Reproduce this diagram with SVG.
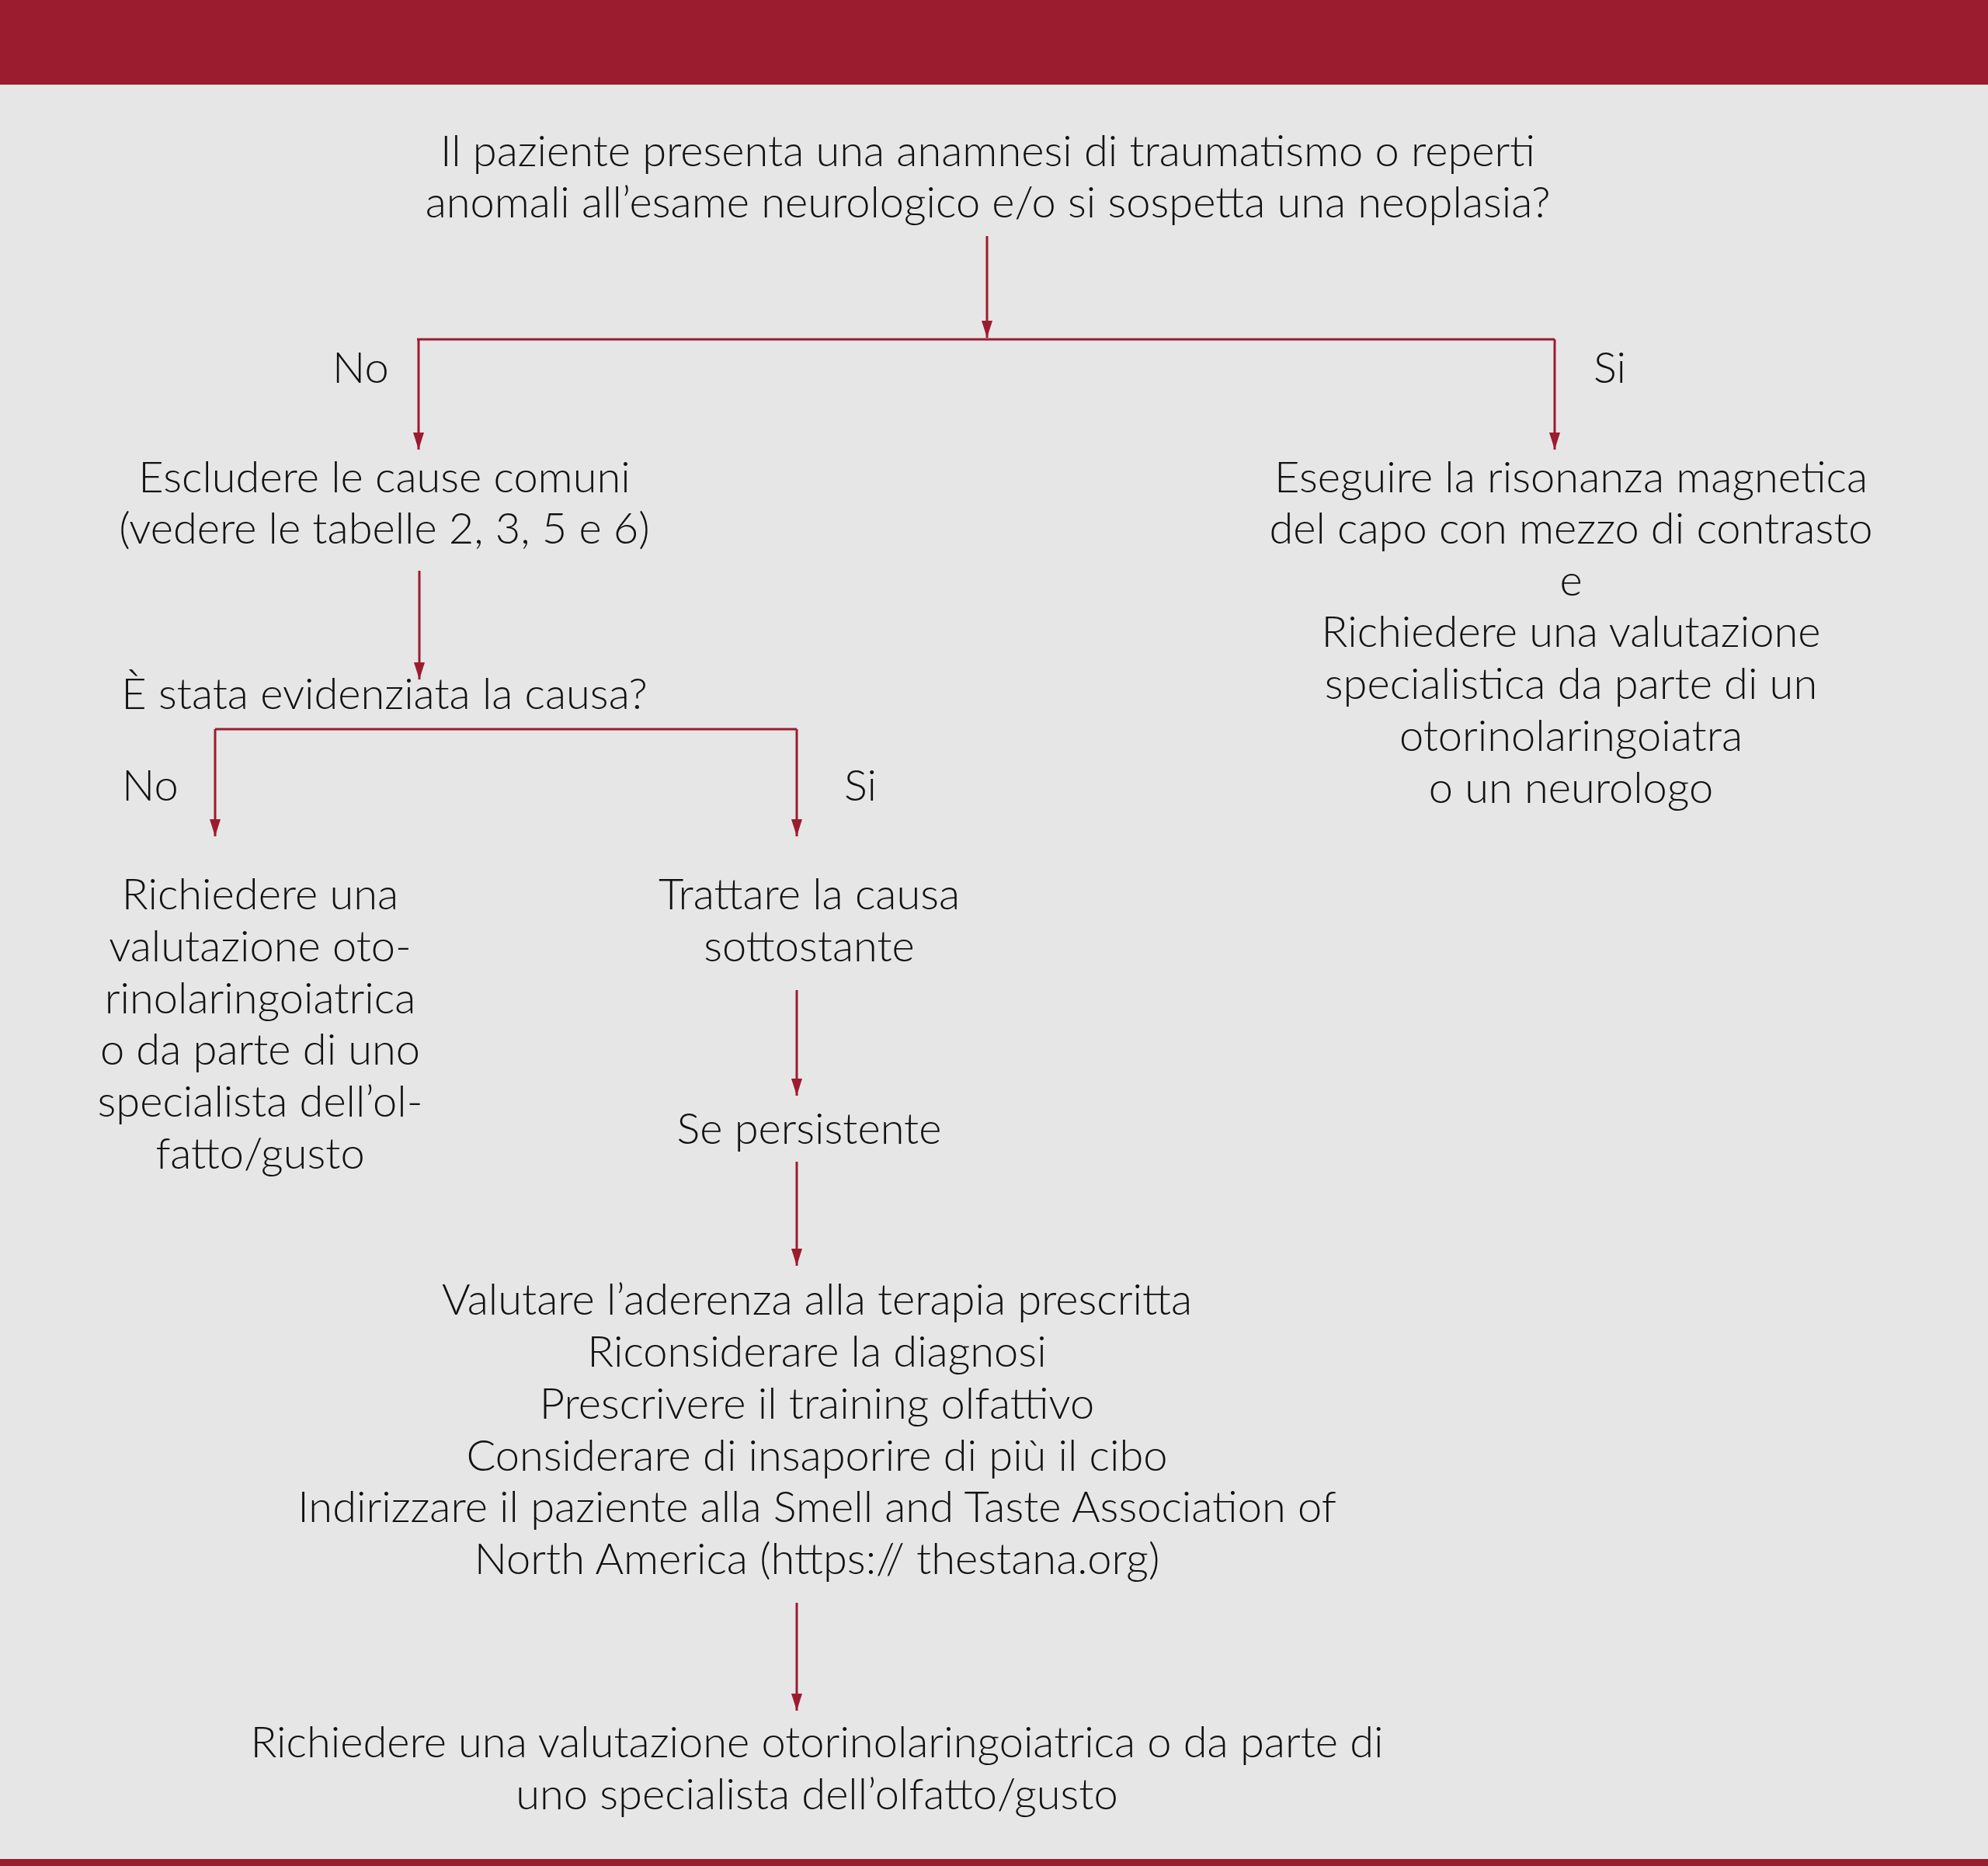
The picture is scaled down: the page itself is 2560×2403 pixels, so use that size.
<svg xmlns="http://www.w3.org/2000/svg" width="2560" height="2403" viewBox="0 0 2560 2403">
<defs>
<marker id="ah" viewBox="0 0 22 14" refX="22" refY="7" markerWidth="22" markerHeight="14" markerUnits="userSpaceOnUse" orient="auto">
<path d="M0,0 L22,7 L0,14 Z" fill="#9b1c2e"/>
</marker>
<style>
text{font-family:Lato,"Open Sans","Liberation Sans",sans-serif;font-weight:300;font-size:56px;fill:#111;text-anchor:middle}
.l{text-anchor:start}
.c{stroke:#9b1c2e;stroke-width:3;fill:none}
.a{marker-end:url(#ah)}
</style>
</defs>
<rect x="0" y="0" width="2560" height="2403" fill="#e6e6e6"/>
<rect x="0" y="0" width="2560" height="109" fill="#9b1c2e"/>
<rect x="0" y="2394" width="2560" height="9" fill="#9b1c2e"/>
<g id="connectors">
<path class="c a" d="M1271,304 V435"/>
<path class="c" d="M537,437 H2002"/>
<path class="c a" d="M539,437 V579"/>
<path class="c a" d="M2002,437 V579"/>
<path class="c a" d="M540,735 V875"/>
<path class="c" d="M277,939 H1026"/>
<path class="c a" d="M277,939 V1077"/>
<path class="c a" d="M1026,939 V1077"/>
<path class="c a" d="M1026,1275 V1411"/>
<path class="c a" d="M1026,1496 V1630"/>
<path class="c a" d="M1026,2064 V2203"/>
</g>
<g id="n1"><text x="1272" y="214">Il paziente presenta una anamnesi di traumatismo o reperti</text><text x="1272" y="280">anomali all’esame neurologico e/o si sospetta una neoplasia?</text></g>
<g id="lbl-no1"><text class="l" x="428" y="493">No</text></g>
<g id="lbl-si1"><text class="l" x="2052" y="493">Si</text></g>
<g id="n2"><text x="495" y="634">Escludere le cause comuni</text><text x="495" y="700">(vedere le tabelle 2, 3, 5 e 6)</text></g>
<g id="n3"><text x="2023" y="634">Eseguire la risonanza magnetica</text><text x="2023" y="700">del capo con mezzo di contrasto</text><text x="2023" y="767">e</text><text x="2023" y="833">Richiedere una valutazione</text><text x="2023" y="900">specialistica da parte di un</text><text x="2023" y="967">otorinolaringoiatra</text><text x="2023" y="1034">o un neurologo</text></g>
<g id="n4"><text x="495" y="913">È stata evidenziata la causa?</text></g>
<g id="lbl-no2"><text class="l" x="157" y="1031">No</text></g>
<g id="lbl-si2"><text class="l" x="1087" y="1031">Si</text></g>
<g id="n5"><text x="335" y="1171">Richiedere una</text><text x="335" y="1238">valutazione oto-</text><text x="335" y="1305">rinolaringoiatrica</text><text x="335" y="1371">o da parte di uno</text><text x="335" y="1438">specialista dell’ol-</text><text x="335" y="1505">fatto/gusto</text></g>
<g id="n6"><text x="1042" y="1171">Trattare la causa</text><text x="1042" y="1238">sottostante</text></g>
<g id="n7"><text x="1042" y="1473">Se persistente</text></g>
<g id="n8"><text x="1052" y="1693">Valutare l’aderenza alla terapia prescritta</text><text x="1052" y="1760">Riconsiderare la diagnosi</text><text x="1052" y="1827">Prescrivere il training olfattivo</text><text x="1052" y="1894">Considerare di insaporire di più il cibo</text><text x="1052" y="1960">Indirizzare il paziente alla Smell and Taste Association of</text><text x="1052" y="2027">North America (https:// thestana.org)</text></g>
<g id="n9"><text x="1052" y="2263">Richiedere una valutazione otorinolaringoiatrica o da parte di</text><text x="1052" y="2330">uno specialista dell’olfatto/gusto</text></g>
</svg>
